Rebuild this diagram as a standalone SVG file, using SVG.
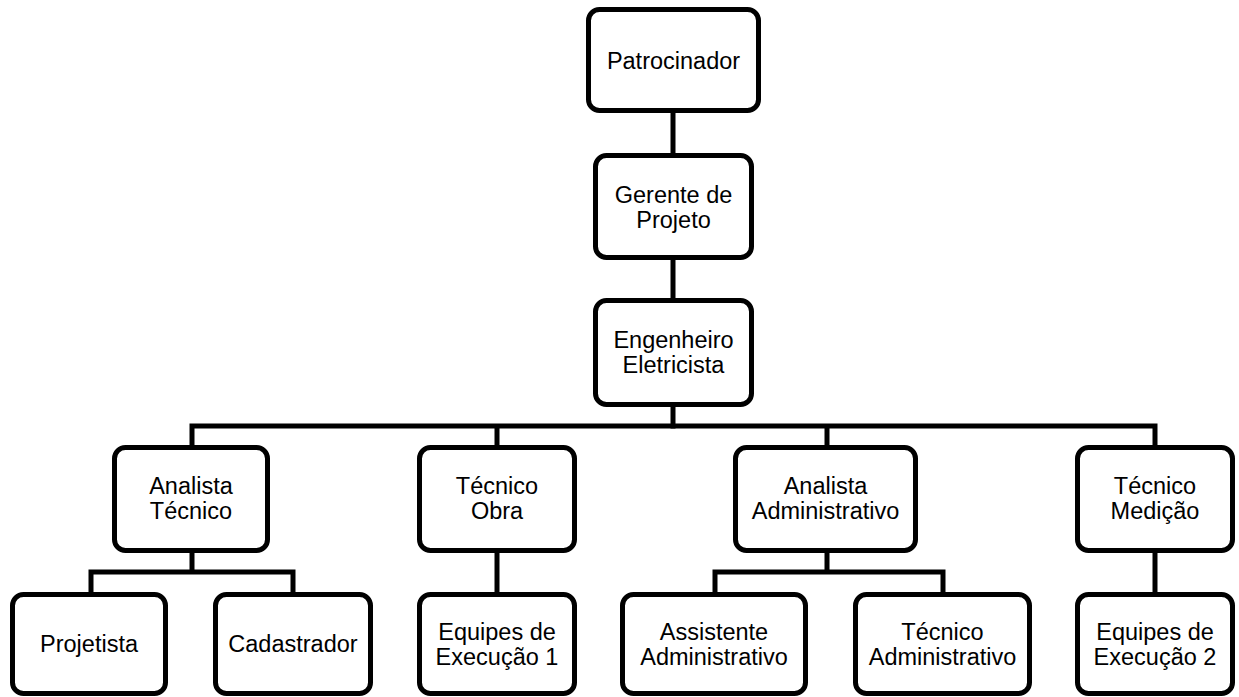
<svg xmlns="http://www.w3.org/2000/svg" width="1239" height="697" viewBox="0 0 1239 697">
  <style>
    .box { fill: #ffffff; stroke: #000000; stroke-width: 5; }
    .lbl { font-family: "Liberation Sans", Arial, sans-serif; font-size: 23.5px; fill: #000000; text-anchor: middle; }
    .wire { fill: none; stroke: #000000; stroke-width: 5; stroke-linecap: square; }
  </style>
  <rect width="1239" height="697" fill="#ffffff"/>

  <!-- connectors -->
  <g id="connectors" class="wire">
    <path d="M673 113V153M673 260V298M673 407V426"/>
    <path d="M192 426H1155M192 426V445M497 426V445M827 426V445M1155 426V445"/>
    <path d="M192 553V572M91 572H293M91 572V592M293 572V592"/>
    <path d="M497 553V592"/>
    <path d="M827 553V572M715 572H943M715 572V592M943 572V592"/>
    <path d="M1155 553V592"/>
  </g>

  <!-- top chain -->
  <g id="patrocinador">
    <rect class="box" x="588.5" y="9.5" width="170" height="101" rx="11"/>
    <text class="lbl" x="673.5" y="69">Patrocinador</text>
  </g>
  <g id="gerente">
    <rect class="box" x="595.5" y="155.5" width="156" height="102" rx="11"/>
    <text class="lbl" x="673.5" y="203">Gerente de</text>
    <text class="lbl" x="673.5" y="228">Projeto</text>
  </g>
  <g id="engenheiro">
    <rect class="box" x="595.5" y="300.5" width="156" height="104" rx="11"/>
    <text class="lbl" x="673.5" y="348">Engenheiro</text>
    <text class="lbl" x="673.5" y="373">Eletricista</text>
  </g>

  <!-- second level -->
  <g id="analista-tecnico">
    <rect class="box" x="114.5" y="447.5" width="153" height="103" rx="11"/>
    <text class="lbl" x="191" y="494">Analista</text>
    <text class="lbl" x="191" y="519">Técnico</text>
  </g>
  <g id="tecnico-obra">
    <rect class="box" x="419.5" y="447.5" width="155" height="103" rx="11"/>
    <text class="lbl" x="497" y="494">Técnico</text>
    <text class="lbl" x="497" y="519">Obra</text>
  </g>
  <g id="analista-administrativo">
    <rect class="box" x="735.5" y="447.5" width="180" height="103" rx="11"/>
    <text class="lbl" x="825.5" y="494">Analista</text>
    <text class="lbl" x="825.5" y="519">Administrativo</text>
  </g>
  <g id="tecnico-medicao">
    <rect class="box" x="1077.5" y="447.5" width="155" height="103" rx="11"/>
    <text class="lbl" x="1155" y="494">Técnico</text>
    <text class="lbl" x="1155" y="519">Medição</text>
  </g>

  <!-- third level -->
  <g id="projetista">
    <rect class="box" x="12.5" y="594.5" width="153" height="99" rx="11"/>
    <text class="lbl" x="89" y="652">Projetista</text>
  </g>
  <g id="cadastrador">
    <rect class="box" x="215.5" y="594.5" width="155" height="99" rx="11"/>
    <text class="lbl" x="293" y="652">Cadastrador</text>
  </g>
  <g id="equipes-1">
    <rect class="box" x="419.5" y="594.5" width="155" height="99" rx="11"/>
    <text class="lbl" x="497" y="640">Equipes de</text>
    <text class="lbl" x="497" y="665">Execução 1</text>
  </g>
  <g id="assistente-administrativo">
    <rect class="box" x="622.5" y="594.5" width="183" height="99" rx="11"/>
    <text class="lbl" x="714" y="640">Assistente</text>
    <text class="lbl" x="714" y="665">Administrativo</text>
  </g>
  <g id="tecnico-administrativo">
    <rect class="box" x="855.5" y="594.5" width="174" height="99" rx="11"/>
    <text class="lbl" x="942.5" y="640">Técnico</text>
    <text class="lbl" x="942.5" y="665">Administrativo</text>
  </g>
  <g id="equipes-2">
    <rect class="box" x="1077.5" y="594.5" width="155" height="99" rx="11"/>
    <text class="lbl" x="1155" y="640">Equipes de</text>
    <text class="lbl" x="1155" y="665">Execução 2</text>
  </g>
</svg>
